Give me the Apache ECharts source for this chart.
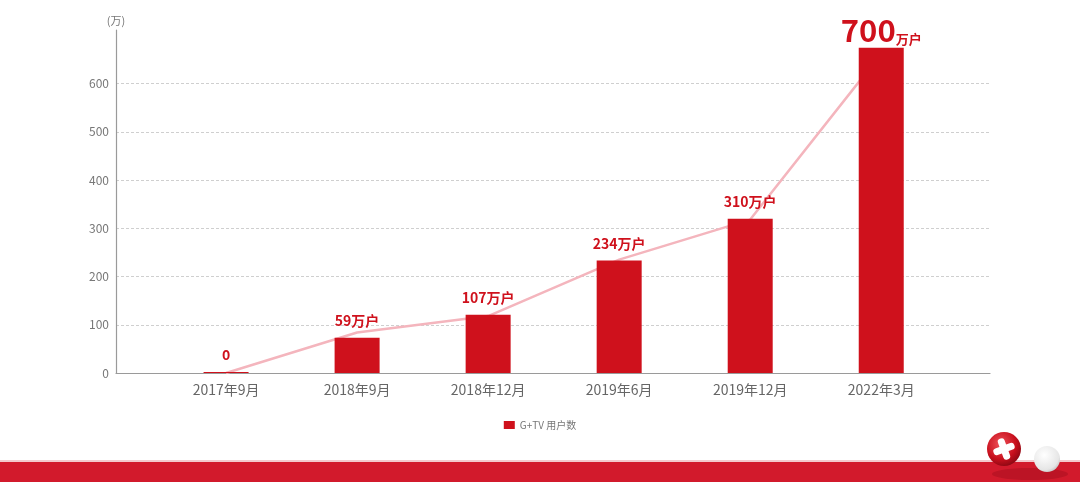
<!DOCTYPE html>
<html>
<head>
<meta charset="utf-8">
<script src="https://cdn.jsdelivr.net/npm/echarts@6/dist/echarts.min.js"></script>
<style>
html,body{margin:0;padding:0;background:#fff;}
#main{width:1080px;height:482px;}
</style>
</head>
<body>
<div id="main"></div>
<script>
var categories = ['2017年9月', '2018年9月', '2018年12月', '2019年6月', '2019年12月', '2022年3月'];
var barValues = [2, 73, 121, 233, 320, 674];
var lineValues = [0, 84, 118, 235, 318, 662];
var barLabels = ['0', '59万户', '107万户', '234万户', '310万户', '700万户'];
var yTicks = [0, 100, 200, 300, 400, 500, 600];
var seriesName = 'G+TV 用户数';

var RED = '#cf111c';
var FONT = '"Noto Sans CJK SC", "Noto Sans", sans-serif';

var lastIdx = barValues.length - 1;
var barData = barValues.map(function (v, i) {
  var item = { value: [i, v] };
  if (i === lastIdx) item.label = { distance: 2 };
  return item;
});
var lineData = lineValues.map(function (v, i) { return [i, v]; });

var chart = echarts.init(document.getElementById('main'));
chart.setOption({
  animation: false,
  backgroundColor: '#ffffff',
  textStyle: { fontFamily: FONT },
  grid: { left: 116, right: 90, top: 30, bottom: 109, containLabel: false },
  legend: {
    data: [seriesName],
    bottom: 47,
    left: 'center',
    itemWidth: 11,
    itemHeight: 8,
    itemGap: 10,
    icon: 'rect',
    textStyle: { color: '#777', fontSize: 10, fontFamily: FONT }
  },
  xAxis: {
    type: 'value',
    min: -0.84,
    max: 5.83,
    axisLine: { show: true, onZero: false, lineStyle: { color: '#9a9a9a', width: 1.2 } },
    axisTick: { show: false },
    splitLine: { show: false },
    axisLabel: {
      customValues: [0, 1, 2, 3, 4, 5],
      formatter: function (v) { return categories[Math.round(v)] || ''; },
      color: '#666',
      fontSize: 14,
      margin: 10,
      fontFamily: FONT
    }
  },
  yAxis: {
    type: 'value',
    min: 0,
    max: 711,
    interval: 100,
    name: '(万)',
    nameGap: 4,
    nameTextStyle: { color: '#777', fontSize: 11, fontFamily: FONT },
    axisLine: { show: true, onZero: false, lineStyle: { color: '#9a9a9a', width: 1.2 } },
    axisTick: { show: false, customValues: yTicks },
    axisLabel: {
      customValues: yTicks,
      color: '#777',
      fontSize: 12,
      margin: 7,
      fontFamily: FONT
    },
    splitLine: {
      show: true,
      showMinLine: false,
      showMaxLine: true,
      lineStyle: { color: '#cfcfcf', type: [3, 2], width: 1 }
    }
  },
  series: [
    {
      name: 'trend',
      type: 'line',
      data: lineData,
      symbol: 'none',
      smooth: false,
      z: 1,
      lineStyle: { color: '#f4b5bd', width: 2.5 },
      silent: true
    },
    {
      name: seriesName,
      type: 'bar',
      data: barData,
      barWidth: 45,
      z: 2,
      itemStyle: { color: RED },
      label: {
        show: true,
        position: 'top',
        distance: 10,
        fontFamily: FONT,
        color: RED,
        fontSize: 14,
        fontWeight: 'bold',
        formatter: function (p) {
          var t = barLabels[p.dataIndex];
          if (p.dataIndex === lastIdx) {
            var m = t.match(/^(\d+)(.*)$/);
            return '{big|' + m[1] + '}{small|' + m[2] + '}';
          }
          return t;
        },
        rich: {
          big: { fontSize: 31, fontWeight: 'bold', color: RED, fontFamily: FONT, verticalAlign: 'bottom', lineHeight: 30 },
          small: { fontSize: 13, fontWeight: 'bold', color: RED, fontFamily: FONT, verticalAlign: 'bottom', lineHeight: 18 }
        }
      }
    }
  ],
  graphic: [
    {
      type: 'rect', z: 10,
      shape: { x: 0, y: 462, width: 1080, height: 20 },
      style: { fill: '#d21a2c' }
    },
    {
      type: 'rect', z: 10,
      shape: { x: 0, y: 460, width: 1080, height: 2 },
      style: { fill: '#f3c9cd' }
    },
    {
      type: 'ellipse', z: 11,
      shape: { cx: 1030, cy: 474, rx: 38, ry: 6 },
      style: { fill: 'rgba(110,0,15,0.22)' }
    },
    {
      type: 'circle', z: 12,
      shape: { cx: 1004, cy: 449, r: 17 },
      style: {
        fill: new echarts.graphic.RadialGradient(0.4, 0.35, 0.75, [
          { offset: 0, color: '#f0525a' },
          { offset: 0.6, color: '#c8101d' },
          { offset: 1, color: '#7a0610' }
        ])
      }
    },
    {
      type: 'group', z: 13, x: 1004, y: 449, rotation: 0.35,
      children: [
        { type: 'rect', z: 13, shape: { x: -11, y: -3.5, width: 22, height: 7, r: 3 }, style: { fill: '#ffffff' } },
        { type: 'rect', z: 13, shape: { x: -3.5, y: -11, width: 7, height: 22, r: 3 }, style: { fill: '#ffffff' } }
      ]
    },
    {
      type: 'circle', z: 12,
      shape: { cx: 1047, cy: 459, r: 13 },
      style: {
        fill: new echarts.graphic.RadialGradient(0.4, 0.35, 0.8, [
          { offset: 0, color: '#ffffff' },
          { offset: 0.7, color: '#e6e6e6' },
          { offset: 1, color: '#a9a9a9' }
        ])
      }
    }
  ]
});
</script>
</body>
</html>
